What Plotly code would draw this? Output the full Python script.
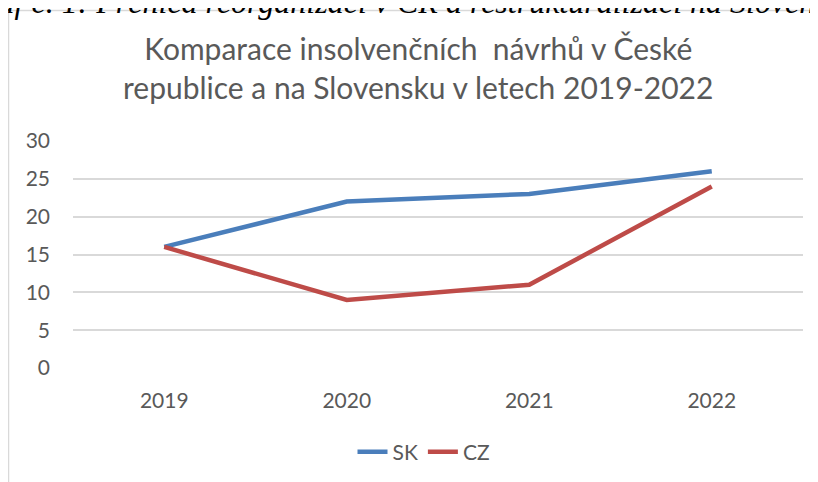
import plotly.graph_objects as go

years = ["2019", "2020", "2021", "2022"]
sk = [16, 22, 23, 26]
cz = [16, 9, 11, 24]
series_names = ["SK", "CZ"]
title_text = "Komparace insolvenčních  návrhů v České<br>republice a na Slovensku v letech 2019-2022"
caption_text = "Graf č. 1: Přehled reorganizací v ČR a restrukturalizací na Slovensku"

font_family = "Lato, Carlito, Calibri, sans-serif"
gray = "#595959"

# plot area in figure pixels
L, R, T, B = 65, 23, 133, 122
W, H = 818, 482
PW, PH = W - L - R, H - T - B


def px(x):
    return (x - L) / PW


def py(y):
    return (H - B - y) / PH


fig = go.Figure()
fig.add_trace(go.Scatter(x=years, y=sk, name=series_names[0], mode="lines",
                         line=dict(color="#4A7EBB", width=4.5)))
fig.add_trace(go.Scatter(x=years, y=cz, name=series_names[1], mode="lines",
                         line=dict(color="#BE4B48", width=4.5)))

fig.update_layout(
    width=W, height=H,
    margin=dict(l=L, r=R, t=T, b=B, autoexpand=False),
    paper_bgcolor="white", plot_bgcolor="white",
    font=dict(family=font_family, color=gray, size=21),
    showlegend=True,
    legend=dict(orientation="h", x=px(416), xanchor="center", y=py(444), yanchor="middle",
                font=dict(size=21, color=gray), itemwidth=30),
    xaxis=dict(type="category", range=[-0.5, 3.5], showgrid=False, showline=False,
               zeroline=False, ticks="", ticklabelstandoff=18,
               tickfont=dict(size=21, color=gray)),
    yaxis=dict(range=[0, 30], dtick=5, tick0=0, showgrid=True, gridcolor="#D9D9D9",
               gridwidth=1.5, zeroline=False, showline=False, ticks="",
               ticklabelstandoff=22, tickfont=dict(size=21, color=gray)),
    shapes=[dict(type="rect", xref="paper", yref="paper",
                 x0=px(0.5), x1=px(W + 20),
                 y0=py(H + 20), y1=py(2.5),
                 line=dict(color="#D9D9D9", width=1.5), fillcolor="rgba(0,0,0,0)",
                 layer="below")],
    annotations=[
        dict(text=title_text, xref="paper", yref="paper",
             x=px(410), y=py(60), xanchor="center", yanchor="middle",
             showarrow=False, align="center",
             font=dict(size=30, color=gray, family=font_family)),
        dict(text="<i>" + caption_text + "</i>", xref="paper", yref="paper",
             x=px(-47), y=py(14), xanchor="left", yanchor="bottom",
             showarrow=False, align="left",
             font=dict(size=32, color="black", family="Liberation Serif, Times New Roman, serif")),
    ],
)

fig.write_html("out.html")
